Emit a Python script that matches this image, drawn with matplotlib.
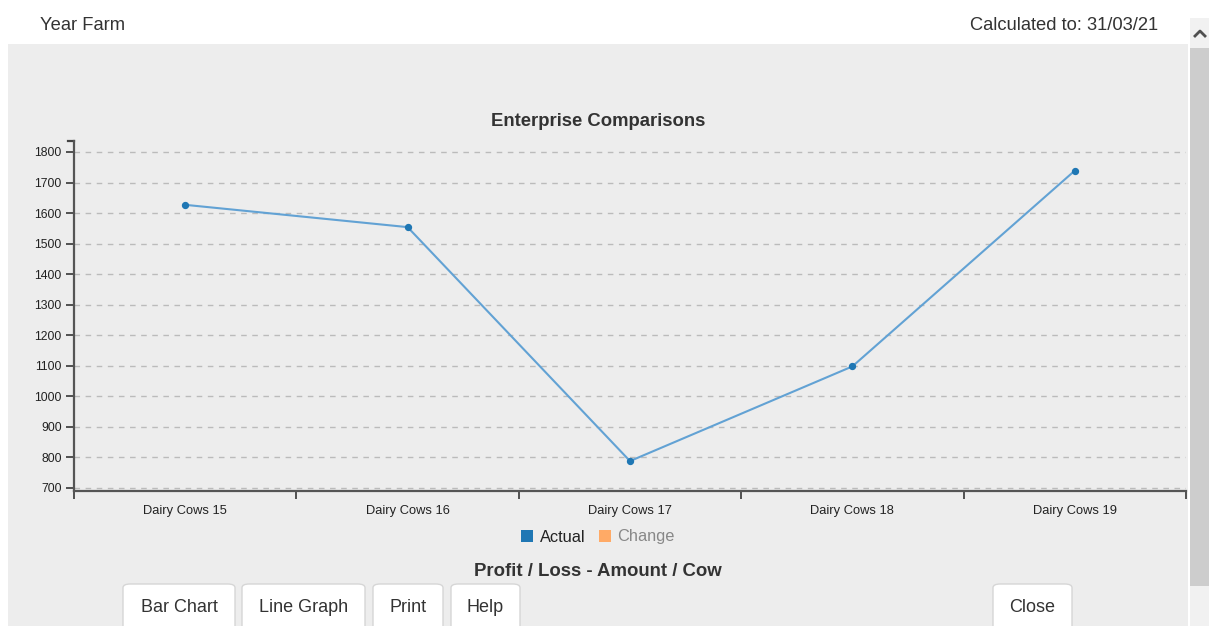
import matplotlib
matplotlib.use("Agg")
import matplotlib.pyplot as plt
from matplotlib.patches import Rectangle, FancyBboxPatch
from matplotlib.lines import Line2D

categories = ["Dairy Cows 15", "Dairy Cows 16", "Dairy Cows 17", "Dairy Cows 18", "Dairy Cows 19"]
actual = [1627, 1554, 788, 1098, 1739]
yticks = [700, 800, 900, 1000, 1100, 1200, 1300, 1400, 1500, 1600, 1700, 1800]
buttons = ["Bar Chart", "Line Graph", "Print", "Help", "Close"]

W, H = 1209, 626
plt.rcParams['font.family'] = ['Liberation Sans', 'DejaVu Sans']
fig = plt.figure(figsize=(W / 100, H / 100), dpi=100)
fig.patch.set_facecolor("white")

def fx(px):
    return px / W

def fy(py):
    return 1 - py / H

# background panel
fig.add_artist(Rectangle((fx(8), 0), fx(1188 - 8), fy(44), transform=fig.transFigure,
                         facecolor="#EDEDED", edgecolor="none", zorder=0))
# scrollbar
fig.add_artist(Rectangle((fx(1190), 0), fx(19), fy(18), transform=fig.transFigure,
                         facecolor="#F1F1F1", edgecolor="none", zorder=0))
fig.add_artist(Rectangle((fx(1190), fy(586)), fx(19), fy(48) - fy(586), transform=fig.transFigure,
                         facecolor="#CDCDCD", edgecolor="none", zorder=1))
fig.add_artist(Line2D([fx(1195), fx(1200), fx(1205)], [fy(36), fy(31), fy(36)],
                      transform=fig.transFigure, color="#505050", linewidth=2))

# header
fig.text(fx(40), fy(26), "Year Farm", ha="left", va="center", fontsize=13.2, color="#333333")
fig.text(fx(1158), fy(26), "Calculated to: 31/03/21", ha="right", va="center", fontsize=13.2,
         color="#333333")

# axes
ax = fig.add_axes([fx(74), fy(491), fx(1186 - 74), fy(141) - fy(491)])
ax.set_facecolor("none")
n = len(categories)
ax.set_xlim(-0.5, n - 0.5)
ax.set_ylim(690, 1836)
ax.set_yticks(yticks)
ax.set_yticklabels([str(v) for v in yticks])
ax.set_xticks([i - 0.5 for i in range(n + 1)])
ax.set_xticklabels([""] * (n + 1))
ax.set_xticks(range(n), minor=True)
ax.set_xticklabels(categories, minor=True)
ax.tick_params(axis="x", which="minor", length=0, pad=10, labelsize=9.3, labelcolor="#222222")
ax.tick_params(axis="x", which="major", length=6, width=1.3, color="#444444", direction="out")
ax.tick_params(axis="y", length=6, width=1.3, color="#444444", labelsize=8.8,
               labelcolor="#222222", pad=3)
for s in ["top", "right"]:
    ax.spines[s].set_visible(False)
for s in ["left", "bottom"]:
    ax.spines[s].set_color("#555555")
    ax.spines[s].set_linewidth(1.6)
ax.yaxis.grid(True, linestyle=(0, (4, 4)), color="#BBBBBB", linewidth=1)
ax.set_axisbelow(True)
# outer tick at top of y axis
ax.add_line(Line2D([-0.5 - 6 / 222.4, -0.5], [1836, 1836], color="#444444", linewidth=1.6,
                   clip_on=False))

ax.plot(range(n), actual, color="#62A2D4", linewidth=1.5, zorder=3)
ax.scatter(range(n), actual, s=18, color="#1F77B4", zorder=4)

fig.text(fx(598), fy(122), "Enterprise Comparisons", ha="center", va="center",
         fontsize=13.3, fontweight="bold", color="#333333")

# legend
fig.add_artist(Rectangle((fx(521), fy(542)), fx(12), fy(530) - fy(542), transform=fig.transFigure,
                         facecolor="#1F77B4", edgecolor="none"))
fig.text(fx(540), fy(537), "Actual", ha="left", va="center", fontsize=11.8, color="#222222")
fig.add_artist(Rectangle((fx(599), fy(542)), fx(12), fy(530) - fy(542), transform=fig.transFigure,
                         facecolor="#FFAA66", edgecolor="none"))
fig.text(fx(617), fy(537), "Change", ha="left", va="center", fontsize=11.8, color="#888888")

fig.text(fx(598), fy(571), "Profit / Loss - Amount / Cow", ha="center", va="center",
         fontsize=13.4, fontweight="bold", color="#333333")

# buttons
btn_pos = [(123, 235), (242, 365), (373, 443), (451, 520), (993, 1072)]
for label, (x0, x1) in zip(buttons, btn_pos):
    fig.add_artist(FancyBboxPatch((fx(x0), fy(630)), fx(x1 - x0), fy(584) - fy(630),
                                  boxstyle="round,pad=0,rounding_size=0.006",
                                  transform=fig.transFigure, facecolor="white",
                                  edgecolor="#D6D6D6", linewidth=1))
    fig.text(fx((x0 + x1) / 2), fy(607), label, ha="center", va="center", fontsize=13,
             color="#333333")

fig.savefig("out.png", dpi=100, facecolor=fig.get_facecolor())
